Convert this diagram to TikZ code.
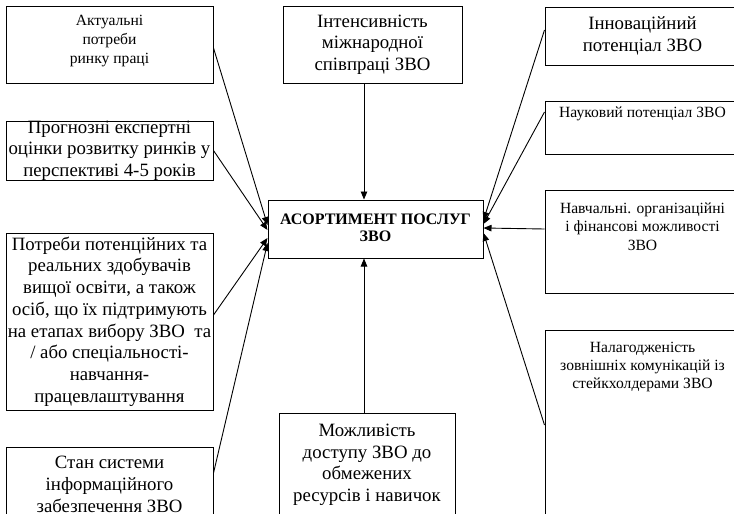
\documentclass[tikz,border=0pt]{standalone}
\usepackage{fontspec}
\setmainfont{Liberation Serif}
\usetikzlibrary{arrows.meta}
\newcommand{\boxtxt}[4][c]{\parbox[c][#3][#1]{#2}{\centering #4}}
\newcommand{\lfont}{\fontsize{18.8}{21.7}\selectfont}
\newcommand{\sfont}{\fontsize{15.6}{18.3}\selectfont}
\tikzset{
  blk/.style={draw, line width=1pt, inner sep=0pt},
  lnk/.style={line width=0.9pt, ->},
  >={Triangle[length=8pt,width=6.5pt]}
}
\begin{document}
\begin{tikzpicture}[x=1pt,y=-1pt]
      \useasboundingbox (0,0) rectangle (734,514);
      \clip (0,0) rectangle (734,514);
      \node[blk] (C) at (375.5,229) {\boxtxt[t]{215pt}{58pt}{\fontsize{16}{17}\selectfont\bfseries\vspace*{13.5pt}АСОРТИМЕНТ ПОСЛУГ\\ЗВО}};
      \node[blk] (L1) at (109.5,44.5) {\boxtxt[t]{207pt}{77pt}{\fontsize{15.6}{19}\selectfont\vspace*{9pt}Актуальні\\потреби\\ринку праці}};
      \node[blk] (L2) at (109.5,150.5) {\boxtxt{207pt}{59pt}{\lfont Прогнозні експертні\\оцінки розвитку ринків у\\перспективі 4-5 років}};
      \node[blk] (L3) at (109.5,321.5) {\boxtxt{207pt}{177pt}{\lfont Потреби потенційних та\\реальних здобувачів\\вищої освіти, а також\\осіб, що їх підтримують\\на етапах вибору ЗВО \ та\\/ або спеціальності-\\навчання-\\працевлаштування}};
      \node[blk] (L4) at (109.5,484.5) {\boxtxt{207pt}{75pt}{\lfont Стан системи\\інформаційного\\забезпечення ЗВО}};
      \node[blk] (T) at (372.5,44.5) {\boxtxt{179pt}{77pt}{\lfont Інтенсивність\\міжнародної\\співпраці ЗВО}};
      \node[blk] (B) at (367,464.5) {\boxtxt[t]{176pt}{103pt}{\lfont\vspace*{11pt}Можливість\\доступу ЗВО до\\обмежених\\ресурсів і навичок}};
      \node[blk] (R1) at (642.5,36) {\boxtxt{195pt}{58pt}{\lfont Інноваційний\\потенціал ЗВО}};
      \node[blk] (R2) at (642.5,127.5) {\boxtxt[t]{195pt}{53pt}{\sfont\vspace*{6pt}Науковий потенціал ЗВО}};
      \node[blk] (R3) at (642.5,241.5) {\boxtxt[t]{195pt}{103pt}{\sfont\vspace*{13pt}Навчальні. організаційні\\і фінансові можливості\\ЗВО}};
      \node[blk] (R4) at (642.5,430) {\boxtxt[t]{195pt}{200pt}{\sfont\vspace*{12pt}Налагодженість\\зовнішніх комунікацій із\\стейкхолдерами ЗВО}};
      \draw[lnk] ([yshift=-3.5pt]L1.east) -- ([yshift=4pt]C.west);
      \draw[lnk] (L2.east) -- ([yshift=-1pt]C.west);
      \draw[lnk] ([yshift=6.5pt]L3.east) -- ([yshift=-9pt]C.west);
      \draw[lnk] ([yshift=11.5pt]L4.east) -- ([yshift=-14pt]C.west);
      \draw[lnk] ([yshift=6pt]R1.west) -- ([yshift=9pt]C.east);
      \draw[lnk] ([yshift=15.5pt]R2.west) -- ([yshift=5pt]C.east);
      \draw[lnk] ([yshift=12.5pt]R3.west) -- ([yshift=1pt]C.east);
      \draw[lnk] ([yshift=5pt]R4.west) -- ([yshift=-4pt]C.east);
      \draw[lnk] ([xshift=-8.5pt]T.south) -- ([xshift=-8.5pt]T.south |- C.north);
      \draw[lnk] ([xshift=-3pt]B.north) -- ([xshift=-3pt]B.north |- C.south);
\end{tikzpicture}
\end{document}
